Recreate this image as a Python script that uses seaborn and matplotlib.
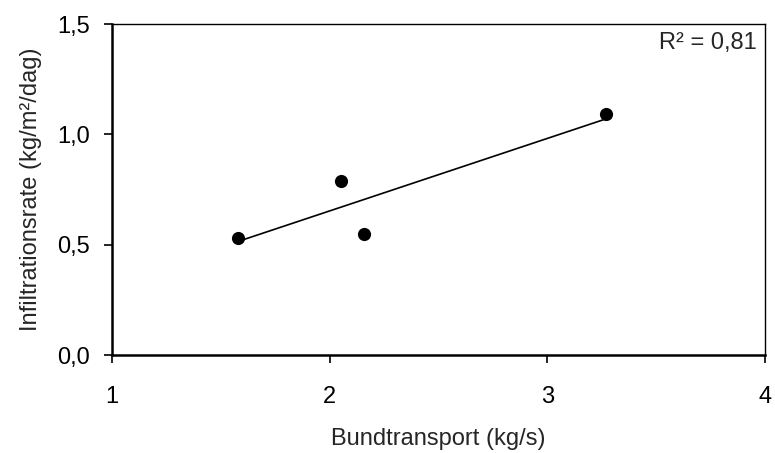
import matplotlib
matplotlib.use("Agg")
import matplotlib.pyplot as plt
import seaborn as sns
import pandas as pd
from matplotlib.ticker import FuncFormatter

# data
bundtransport = [1.58, 2.05, 2.16, 3.27]
infiltration = [0.53, 0.79, 0.55, 1.09]
x_ticks = [1, 2, 3, 4]
y_ticks = [0.0, 0.5, 1.0, 1.5]
r2_label = "R² = 0,81"

df = pd.DataFrame({"x": bundtransport, "y": infiltration})

sns.set_style("white")
plt.rcParams["font.family"] = ["Liberation Sans", "DejaVu Sans"]

fig = plt.figure(figsize=(7.75, 4.53), dpi=100)
ax = fig.add_axes([0.1445, 0.2163, 0.8425, 0.7307])

sns.regplot(x="x", y="y", data=df, ci=None, ax=ax, color="black",
            scatter_kws={"s": 90, "linewidths": 0, "alpha": 1},
            line_kws={"linewidth": 1.2})

ax.set_xlim(1, 4)
ax.set_ylim(0, 1.5)
ax.set_xticks(x_ticks)
ax.set_yticks(y_ticks)
ax.yaxis.set_major_formatter(FuncFormatter(lambda v, p: f"{v:.1f}".replace(".", ",")))
ax.xaxis.set_major_formatter(FuncFormatter(lambda v, p: f"{v:.0f}"))

ax.tick_params(axis="both", direction="out", length=6, width=1.2, colors="black",
               labelsize=17, bottom=True, left=True)
ax.tick_params(axis="x", pad=16)
ax.tick_params(axis="y", pad=10)

for side in ["left", "bottom"]:
    ax.spines[side].set_linewidth(1.8)
    ax.spines[side].set_color("black")
for side in ["top", "right"]:
    ax.spines[side].set_linewidth(1.0)
    ax.spines[side].set_color("black")

ax.set_xlabel("Bundtransport (kg/s)", fontsize=17, labelpad=15)
ax.set_ylabel("Infiltrationsrate (kg/m²/dag)", fontsize=17, labelpad=11)

ax.text(0.988, 0.975, r2_label, transform=ax.transAxes, ha="right", va="top", fontsize=17)

fig.savefig("out.png", dpi=100)
